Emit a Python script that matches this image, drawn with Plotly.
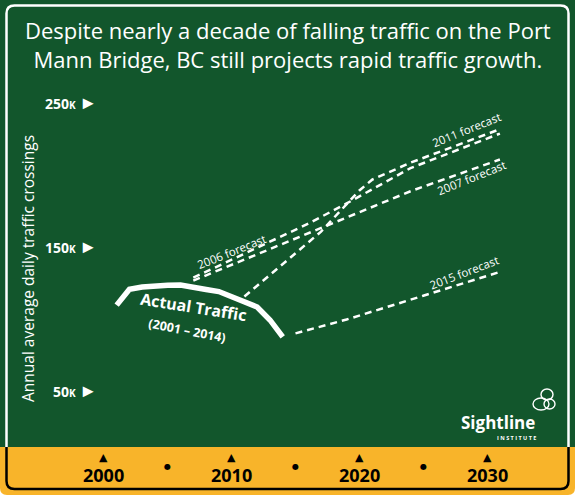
import plotly.graph_objects as go

# ---------------- data ----------------
actual_years = list(range(2001, 2015))
actual_vals = [109, 120, 121.5, 122.4, 122.7, 123, 121, 119.8, 118.4, 115, 111.4, 107.7, 98.7, 87]

f2006_years = [2007, 2016, 2019, 2024, 2031]
f2006_vals = [128, 165.5, 179.5, 204, 228]

f2007_years = [2007, 2016, 2024, 2031]
f2007_vals = [126, 159, 188, 210]

f2011_years = [2011, 2017, 2020, 2021, 2024, 2031]
f2011_vals = [115, 160, 188.5, 196, 207.8, 231]

f2015_years = [2015, 2019, 2025, 2031]
f2015_vals = [89.4, 99, 115.5, 132]

y_ticks = [250, 150, 50]
x_ticks = [2000, 2010, 2020, 2030]
x_dots = [2005, 2015, 2025]

GREEN = "#12562C"
YELLOW = "#F8B42A"
W, H = 575, 495
FONT = "Open Sans"


def X(px):
    return px / W


def Y(py):
    return 1 - py / H


fig = go.Figure()

dash = "7px,5px"
for yrs, vals in [(f2006_years, f2006_vals), (f2007_years, f2007_vals),
                  (f2011_years, f2011_vals), (f2015_years, f2015_vals)]:
    fig.add_trace(go.Scatter(x=yrs, y=vals, mode="lines",
                             line=dict(color="white", width=2.5, dash=dash),
                             hoverinfo="skip", showlegend=False))

fig.add_trace(go.Scatter(x=actual_years, y=actual_vals, mode="lines",
                         line=dict(color="white", width=5.5),
                         hoverinfo="skip", showlegend=False))

shapes = []
# green panel
shapes.append(dict(type="rect", xref="paper", yref="paper", x0=0, x1=1, y0=Y(447), y1=1,
                   fillcolor=GREEN, line=dict(width=0), layer="below"))
# yellow band with rounded bottom corners
r = 7
shapes.append(dict(type="path", xref="paper", yref="paper", layer="below",
                   path=(f"M {X(0)},{Y(447)} L {X(575)},{Y(447)} L {X(575)},{Y(495-r)} "
                         f"Q {X(575)},{Y(495)} {X(575-r)},{Y(495)} L {X(r)},{Y(495)} "
                         f"Q {X(0)},{Y(495)} {X(0)},{Y(495-r)} Z"),
                   fillcolor=YELLOW, line=dict(width=0)))
# white border (top part)
rb = 8
shapes.append(dict(type="path", xref="paper", yref="paper", layer="below",
                   path=(f"M {X(6.5)},{Y(447)} L {X(6.5)},{Y(5.5+rb)} Q {X(6.5)},{Y(5.5)} {X(6.5+rb)},{Y(5.5)} "
                         f"L {X(568.5-rb)},{Y(5.5)} Q {X(568.5)},{Y(5.5)} {X(568.5)},{Y(5.5+rb)} "
                         f"L {X(568.5)},{Y(447)}"),
                   line=dict(color="white", width=2.5)))
# black border (bottom part)
shapes.append(dict(type="path", xref="paper", yref="paper", layer="below",
                   path=(f"M {X(6.5)},{Y(447)} L {X(6.5)},{Y(489-rb)} Q {X(6.5)},{Y(489)} {X(6.5+rb)},{Y(489)} "
                         f"L {X(568.5-rb)},{Y(489)} Q {X(568.5)},{Y(489)} {X(568.5)},{Y(489-rb)} "
                         f"L {X(568.5)},{Y(447)}"),
                   line=dict(color="black", width=2.5)))
# Sightline logo loops
for (x0, y0, x1, y1) in [(541, 389, 553, 400), (533, 398, 549, 410), (544, 399, 555, 409)]:
    shapes.append(dict(type="circle", xref="paper", yref="paper",
                       x0=X(x0), x1=X(x1), y0=Y(y1), y1=Y(y0),
                       line=dict(color="white", width=1.4)))

ann = []
# title
ann.append(dict(xref="paper", yref="paper", x=X(287.5), y=Y(44), xanchor="center", yanchor="middle",
                text="Despite nearly a decade of falling traffic on the Port<br>Mann Bridge, BC still projects rapid traffic growth.",
                showarrow=False, font=dict(family=FONT, size=22, color="white", weight=500)))
# y-axis title
ann.append(dict(xref="paper", yref="paper", x=X(28), y=Y(269), xanchor="center", yanchor="middle",
                text="Annual average daily traffic crossings", textangle=-90,
                showarrow=False, font=dict(family=FONT, size=15.5, color="white")))
# y tick labels
for v in y_ticks:
    ann.append(dict(xref="paper", yref="y", x=X(99), y=v, xanchor="right", yanchor="middle",
                    text=f"<b>{v}<span style='font-size:10px'>K</span></b> <span style='font-size:18px'>►</span>",
                    showarrow=False, font=dict(family=FONT, size=14, color="white")))
# x tick labels
for v in x_ticks:
    ann.append(dict(xref="x", yref="paper", x=v, y=Y(457), xanchor="center", yanchor="middle",
                    text="▲", showarrow=False, font=dict(family="DejaVu Sans", size=11, color="black")))
    ann.append(dict(xref="x", yref="paper", x=v, y=Y(475), xanchor="center", yanchor="middle",
                    text=f"<b>{v}</b>", showarrow=False, font=dict(family=FONT, size=18, color="black")))
for v in x_dots:
    ann.append(dict(xref="x", yref="paper", x=v, y=Y(466), xanchor="center", yanchor="middle",
                    text="●", showarrow=False, font=dict(family="DejaVu Sans", size=8, color="black")))

# series labels
labels = [
    ("2006 forecast", 2010.0, 146.5, -22),
    ("2011 forecast", 2028.4, 231.1, -22),
    ("2007 forecast", 2028.8, 197.8, -22),
    ("2015 forecast", 2028.2, 131.3, -21),
]
for t, xv, yv, ang in labels:
    ann.append(dict(xref="x", yref="y", x=xv, y=yv, xanchor="center", yanchor="middle",
                    text=t, textangle=ang, showarrow=False,
                    font=dict(family=FONT, size=11.5, color="white")))
ann.append(dict(xref="x", yref="y", x=2007.0, y=107.7, xanchor="center", yanchor="middle",
                text="<b>Actual Traffic</b>", textangle=9, showarrow=False,
                font=dict(family=FONT, size=16, color="white")))
ann.append(dict(xref="x", yref="y", x=2006.5, y=91.7, xanchor="center", yanchor="middle",
                text="<b>(2001 – 2014)</b>", textangle=11, showarrow=False,
                font=dict(family=FONT, size=12.5, color="white")))
# logo text
ann.append(dict(xref="paper", yref="paper", x=X(498), y=Y(422), xanchor="center", yanchor="middle",
                text="<b>Sightline</b>", showarrow=False, font=dict(family=FONT, size=17, color="white")))
ann.append(dict(xref="paper", yref="paper", x=X(538), y=Y(437.5), xanchor="right", yanchor="middle",
                text="<b>I N S T I T U T E</b>", showarrow=False, font=dict(family=FONT, size=5.5, color="white")))

fig.update_layout(
    width=W, height=H,
    margin=dict(l=0, r=0, t=0, b=0),
    paper_bgcolor="white",
    plot_bgcolor="rgba(0,0,0,0)",
    xaxis=dict(domain=[40 / W, 551 / W], range=[1995, 2035], visible=False, fixedrange=True),
    yaxis=dict(domain=[1 - 419 / H, 1 - 73 / H], range=[30, 270], visible=False, fixedrange=True),
    shapes=shapes,
    annotations=ann,
    showlegend=False,
)

fig.write_html("out.html", config={"displayModeBar": False},
               post_script="document.body.style.margin='0';document.body.style.overflow='hidden';")
